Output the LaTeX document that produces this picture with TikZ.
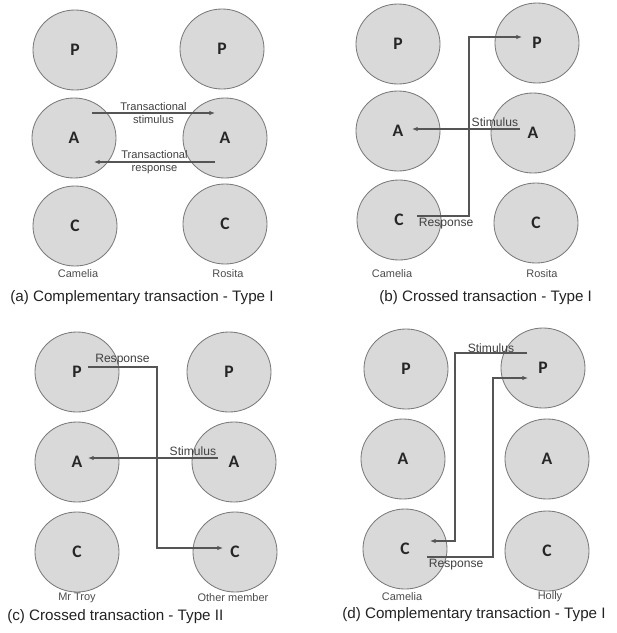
\documentclass[tikz,border=0pt]{standalone}
\usepackage{fontspec}
\setmainfont{Liberation Sans}
\newfontfamily\stateface{Carlito}
\usetikzlibrary{shapes.geometric,arrows.meta}
\definecolor{stfill}{HTML}{D9D9D9}
\definecolor{stline}{HTML}{7A7A7A}
\definecolor{txline}{HTML}{555555}
\definecolor{captext}{HTML}{222222}
\tikzset{
	egostate/.style={ellipse,draw=stline,fill=stfill,line width=0.6pt,minimum width=2.1cm,minimum height=2cm,inner sep=0pt,
		font=\stateface\bfseries\fontsize{12.5}{14}\selectfont,text=black!85},
	tx/.style={draw=txline,line width=0.75pt,-{Latex[length=4pt,width=3.2pt]}},
	txlabel/.style={font=\fontsize{8.6}{10}\selectfont,text=black!75,inner sep=1pt},
	twolabel/.style={font=\fontsize{7.9}{9.3}\selectfont,text=black!75,align=center,inner sep=0pt},
	who/.style={font=\fontsize{7.8}{9}\selectfont,text=black!70},
	caption/.style={font=\fontsize{10.8}{13}\selectfont,text=captext,anchor=west,inner sep=0pt}
}
\begin{document}
\begin{tikzpicture}[x=0.025cm,y=-0.025cm]
	\useasboundingbox (0,0) rectangle (617,633);
	% (a) complementary, type I
	\node[egostate] (aP1) at (75,50) {P};
	\node[egostate] (aP2) at (222,49) {P};
	\node[egostate] (aA1) at (74,138) {A};
	\node[egostate] (aA2) at (225,138) {A};
	\node[egostate] (aC1) at (75,226) {C};
	\node[egostate] (aC2) at (225,224) {C};
	\draw[tx] ([shift={(18,-25)}]aA1.center) -- node[twolabel]{Transactional\\stimulus} ([shift={(-10,-25)}]aA2.center);
	\draw[tx] ([shift={(-10,24)}]aA2.center) -- node[twolabel]{Transactional\\response} ([shift={(20,24)}]aA1.center);
	\node[who] (aWho1) at (78,274) {Camelia};
	\node[who] (aWho2) at (228,274) {Rosita};
	\node[caption] (aCap) at (10,298) {(a) Complementary transaction - Type I};
	% (b) crossed, type I
	\node[egostate] (bP1) at (398,44) {P};
	\node[egostate] (bP2) at (537,43) {P};
	\node[egostate] (bA1) at (398,131) {A};
	\node[egostate] (bA2) at (533,133) {A};
	\node[egostate] (bC1) at (399,220) {C};
	\node[egostate] (bC2) at (536,223) {C};
	\draw[tx] ([shift={(-13,-4)}]bA2.center) node[txlabel,anchor=south east]{Stimulus} -- ([shift={(14,-2)}]bA1.center);
	\draw[tx] ([shift={(18,-4)}]bC1.center) node[txlabel,anchor=north west]{Response} -- ++(52,0) |- ([shift={(-15,-6)}]bP2.center);
	\node[who] (bWho1) at (392,274) {Camelia};
	\node[who] (bWho2) at (542,274) {Rosita};
	\node[caption] (bCap) at (379,298) {(b) Crossed transaction - Type I};
	% (c) crossed, type II
	\node[egostate] (cP1) at (77,372) {P};
	\node[egostate] (cP2) at (229,372) {P};
	\node[egostate] (cA1) at (77,462) {A};
	\node[egostate] (cA2) at (234,462) {A};
	\node[egostate] (cC1) at (77,552) {C};
	\node[egostate] (cC2) at (235,552) {C};
	\draw[tx] ([shift={(11,-5)}]cP1.center) -- node[txlabel,above]{Response} ++(69,0) |- ([shift={(-12,-4)}]cC2.center);
	\draw[tx] ([shift={(-16,-4)}]cA2.center) node[txlabel,anchor=south east]{Stimulus} -- ([shift={(11,-4)}]cA1.center);
	\node[who] (cWho1) at (77,598) {Mr Troy};
	\node[who] (cWho2) at (233,598) {Other member};
	\node[caption] (cCap) at (7,617) {(c) Crossed transaction - Type II};
	% (d) complementary, type I
	\node[egostate] (dP1) at (406,369) {P};
	\node[egostate] (dP2) at (543,368) {P};
	\node[egostate] (dA1) at (403,459) {A};
	\node[egostate] (dA2) at (547,459) {A};
	\node[egostate] (dC1) at (405,549) {C};
	\node[egostate] (dC2) at (547,551) {C};
	\draw[tx] ([shift={(-16,-15)}]dP2.center) -- node[txlabel,above,inner sep=0pt]{Stimulus} ++(-72,0) |- ([shift={(25,-8)}]dC1.center);
	\draw[tx] ([shift={(22,8)}]dC1.center) node[txlabel,anchor=north west]{Response} -- ++(66,0) |- ([shift={(-15,10)}]dP2.center);
	\node[who] (dWho1) at (402,597) {Camelia};
	\node[who] (dWho2) at (550,597) {Holly};
	\node[caption] (dCap) at (342,615) {(d) Complementary transaction - Type I};
\end{tikzpicture}
\end{document}
